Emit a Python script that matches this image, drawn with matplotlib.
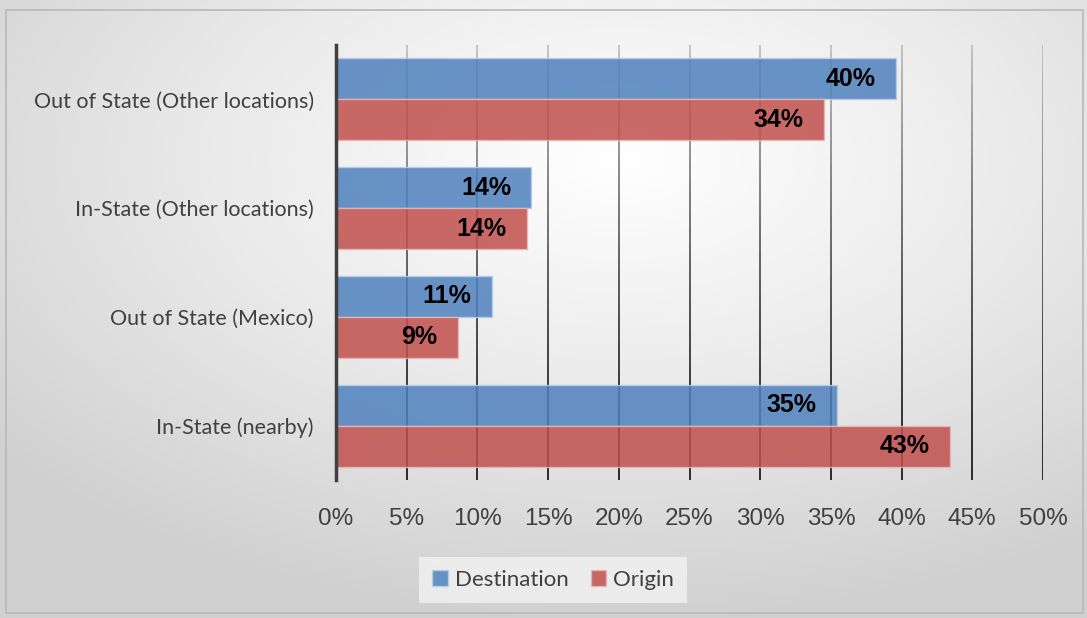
import numpy as np
import matplotlib.pyplot as plt
from matplotlib.collections import LineCollection
from matplotlib.patches import Rectangle
from matplotlib.colors import LinearSegmentedColormap

categories = ['In-State (nearby)', 'Out of State (Mexico)',
              'In-State (Other locations)', 'Out of State (Other locations)']
destination = [35.4, 11.0, 13.8, 39.6]
origin = [43.4, 8.6, 13.5, 34.5]
dest_labels = ['35%', '11%', '14%', '40%']
orig_labels = ['43%', '9%', '14%', '34%']
xticks = [0, 5, 10, 15, 20, 25, 30, 35, 40, 45, 50]

fig = plt.figure(figsize=(10.87, 6.18), dpi=100)

# radial gray background
bg = fig.add_axes([0, 0, 1, 1], zorder=-10)
yy, xx = np.mgrid[0:618, 0:1087]
r = np.hypot((xx - 620) / 1087, (yy - 160) / 618)
bg_cmap = LinearSegmentedColormap.from_list('bg', ['#ffffff', '#eaeaea', '#d0d0d0'])
bg.imshow(r, cmap=bg_cmap, aspect='auto', extent=[0, 1, 0, 1], vmin=0, vmax=0.75)
bg.axis('off')
fig.patches.append(Rectangle((6 / 1087, 5 / 618), 1077 / 1087, 603 / 618,
                             transform=fig.transFigure, fill=False,
                             edgecolor='#b8b8b8', linewidth=1.2))

ax = fig.add_axes([336 / 1087, 1 - 480 / 618, 707 / 1087, 435 / 618])
ax.patch.set_alpha(0)

y = np.arange(len(categories))
h = 0.377

# gridlines fading from black at the bottom to gray at the top
segs, cols = [], []
steps = np.linspace(-0.5, 3.5, 60)
for xv in xticks[1:]:
    for i in range(len(steps) - 1):
        segs.append([(xv, steps[i]), (xv, steps[i + 1])])
        t = (steps[i] + 0.5) / 4
        g = 0.05 + 0.7 * t ** 1.5
        cols.append((g, g, g))
ax.add_collection(LineCollection(segs, colors=cols, linewidths=1.2, zorder=1))

ax.barh(y + h / 2, destination, height=h, color='#4f81bd', alpha=0.85,
        edgecolor='#b9cde6', linewidth=1, label='Destination', zorder=2)
ax.barh(y - h / 2, origin, height=h, color='#c0504d', alpha=0.85,
        edgecolor='#e6b8b7', linewidth=1, label='Origin', zorder=2)

for yi, v, s in zip(y, destination, dest_labels):
    ax.annotate(s, (v, yi + h / 2), xytext=(-20, 0), textcoords='offset pixels',
                ha='right', va='center', fontsize=18, fontweight='bold',
                family='Liberation Sans', color='black', zorder=3)
for yi, v, s in zip(y, origin, orig_labels):
    ax.annotate(s, (v, yi - h / 2), xytext=(-20, 0), textcoords='offset pixels',
                ha='right', va='center', fontsize=18, fontweight='bold',
                family='Liberation Sans', color='black', zorder=3)

ax.set_xlim(0, 50)
ax.set_ylim(-0.5, 3.5)
ax.set_xticks(xticks)
ax.set_xticklabels([f'{v}%' for v in xticks], fontsize=17.5, color='#404040',
                   family='Liberation Sans')
ax.set_yticks(y)
ax.set_yticklabels(categories, fontsize=15.5, color='#404040', family='Lato')
ax.tick_params(axis='x', length=0, pad=20)
ax.tick_params(axis='y', length=0, pad=16)

for side in ['top', 'right', 'bottom']:
    ax.spines[side].set_visible(False)
ax.spines['left'].set_color('#404040')
ax.spines['left'].set_linewidth(2.5)

leg = fig.legend(loc='center', bbox_to_anchor=(553 / 1087, 1 - 580 / 618), ncol=2,
                 frameon=True, fancybox=False, prop={'family': 'Lato', 'size': 16},
                 handlelength=0.7, handleheight=0.7, handletextpad=0.3,
                 columnspacing=1.0, borderpad=0.6, labelcolor='#404040')
leg.get_frame().set_facecolor('#f2f2f2')
leg.get_frame().set_edgecolor('none')
leg.get_frame().set_alpha(0.8)

fig.savefig('out.png', dpi=100)
